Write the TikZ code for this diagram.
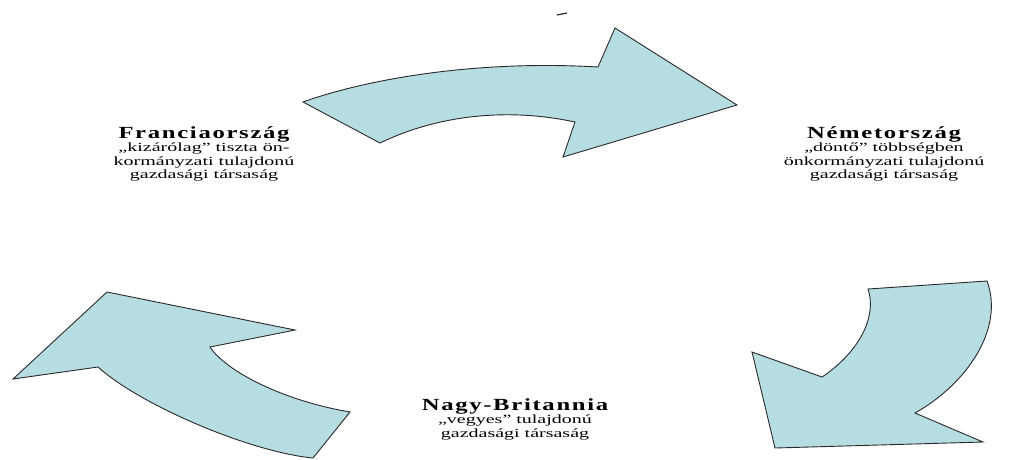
\documentclass[tikz,border=0pt]{standalone}
\usepackage{fontspec}
\setmainfont{Liberation Serif}[FakeStretch=1.6]
\newfontfamily\titlefont{Liberation Serif}[FakeStretch=1.45,LetterSpace=10]
\newcommand\ctitlefont{\titlefont\bfseries\fontsize{17}{17}\selectfont}
\usetikzlibrary{positioning}
\definecolor{cyclefill}{HTML}{B6DDE2}
\definecolor{cycleline}{HTML}{2A2A2A}

\begin{document}
\begin{tikzpicture}[
x=1pt, y=-1pt,
cyclearrow/.style={fill=cyclefill, draw=cycleline, line width=0.9pt, line join=miter},
country/.style={align=center, inner sep=0pt, font=\fontsize{12.5}{13.5}\selectfont}
]
\useasboundingbox (0,0) rectangle (1027,459);

% top arrow: Franciaorszag -> Nemetorszag
\draw[cyclearrow] (303,102) .. controls (370,78) and (480,60) .. (598,67)
  -- (615,28) -- (737,105) -- (563,157) -- (575,122)
  .. controls (510,108) and (440,114) .. (380,143) -- cycle;

% right arrow: Nemetorszag -> Nagy-Britannia
\draw[cyclearrow] (987,281) -- (868,289)
  .. controls (878,320) and (855,355) .. (822,377)
  -- (752,352) -- (775,448) -- (983,442) -- (915,413)
  .. controls (965,385) and (1005,330) .. cycle;

% left arrow: Nagy-Britannia -> Franciaorszag
\draw[cyclearrow] (350,412) -- (313,458)
  .. controls (250,452) and (140,405) .. (98,367)
  -- (13,379) -- (107,292) -- (295,330) -- (210,347)
  .. controls (225,370) and (280,400) .. cycle;

% stray mark
\draw[cycleline, line width=1.2pt] (557,15) -- (567,13);

\node[country] (fr) at (204,154) {{\ctitlefont Franciaország}\\„kizárólag” tiszta ön-\\kormányzati tulajdonú\\gazdasági társaság};
\node[country] (de) at (884,154) {{\ctitlefont Németország}\\„döntő” többségben\\önkormányzati tulajdonú\\gazdasági társaság};
\node[country] (uk) at (515,419) {{\ctitlefont Nagy-Britannia}\\„vegyes” tulajdonú\\gazdasági társaság};
\end{tikzpicture}
\end{document}
